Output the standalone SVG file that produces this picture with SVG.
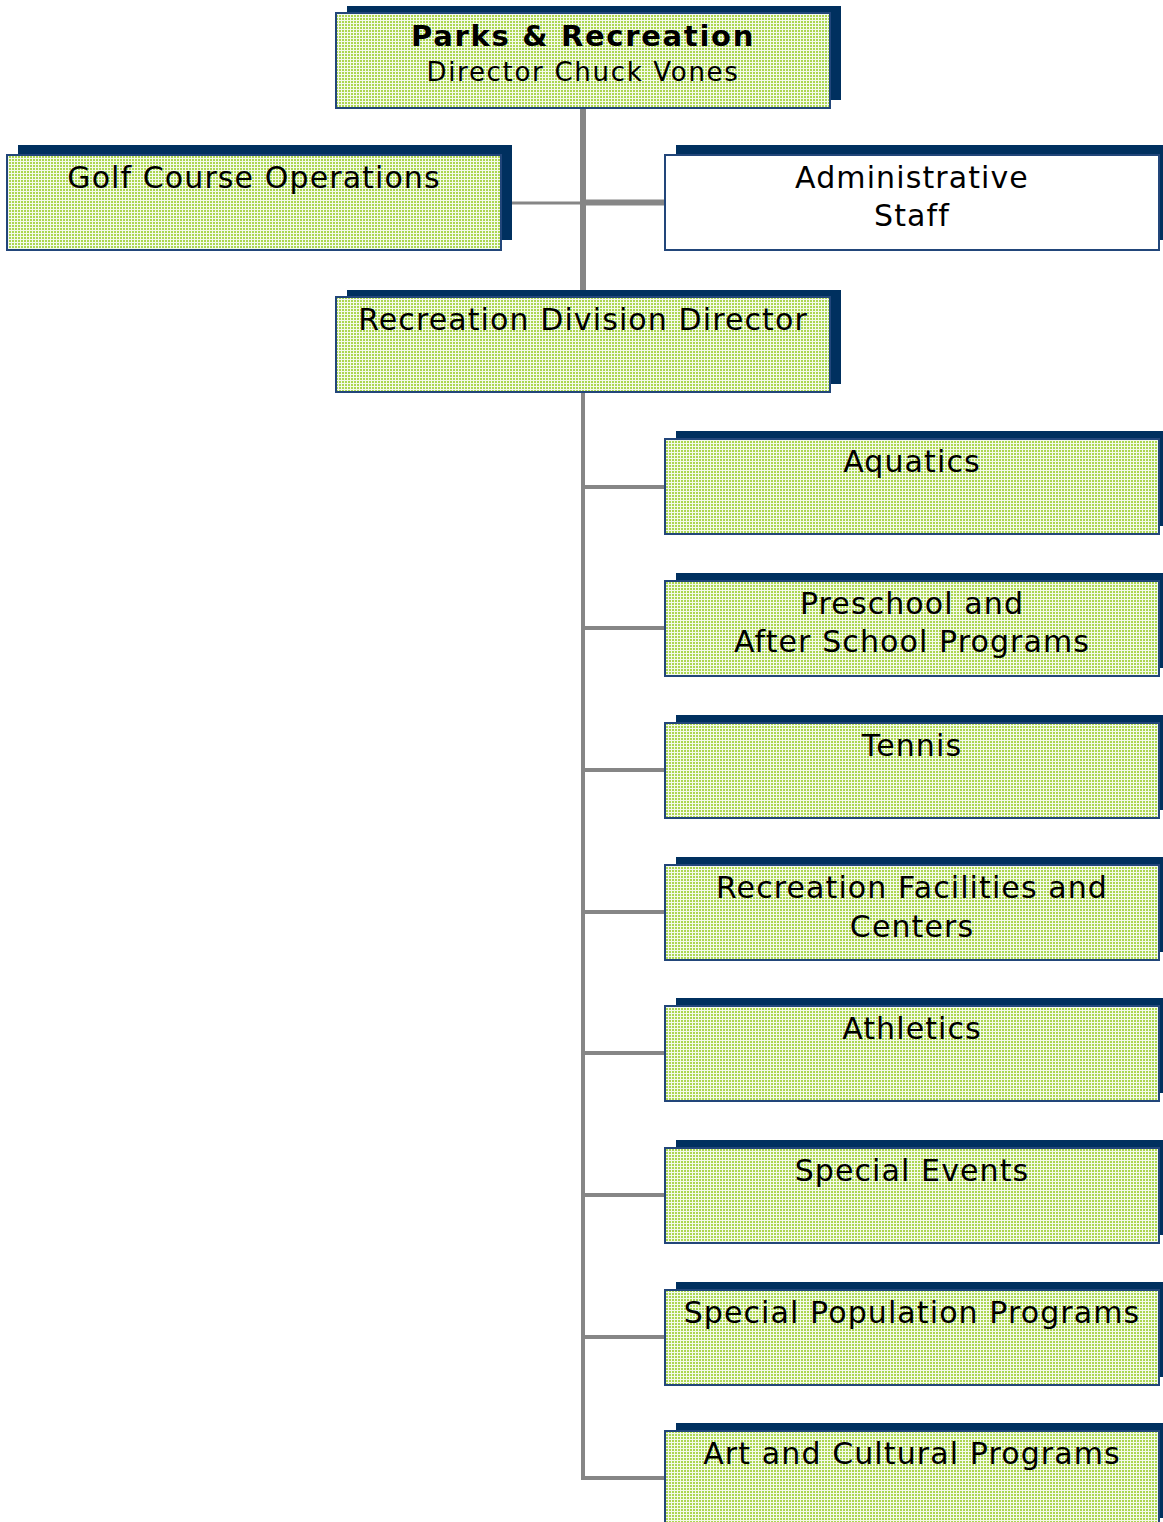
<svg xmlns="http://www.w3.org/2000/svg" width="1163" height="1522" viewBox="0 0 1163 1522">
<defs>
<pattern id="dots" x="0" y="0" width="3" height="3" patternUnits="userSpaceOnUse">
<rect width="3" height="3" fill="#f4faea"/>
<rect x="0" y="0" width="2" height="2" fill="#acd650"/>
</pattern>
</defs>
<style>
.sh{fill:#00305f}
.bx{fill:url(#dots);stroke:#22467a;stroke-width:2}
.wb{fill:#ffffff;stroke:#22467a;stroke-width:2}
.t{font-family:"DejaVu Sans",Verdana,sans-serif;font-size:30px;letter-spacing:1.1px;text-anchor:middle;fill:#000}
.tb{font-family:"DejaVu Sans",Verdana,sans-serif;font-size:29px;font-weight:bold;letter-spacing:1.7px;text-anchor:middle;fill:#000}
.ts{font-family:"DejaVu Sans",Verdana,sans-serif;font-size:26px;letter-spacing:1.7px;text-anchor:middle;fill:#000}
.c{stroke:#868686;fill:none}
</style>
<rect width="1163" height="1522" fill="#ffffff"/>
<g id="connectors">
<line class="c" x1="583" y1="108" x2="583" y2="297" stroke-width="6"/>
<line class="c" x1="583" y1="202.5" x2="665" y2="202.5" stroke-width="6"/>
<line class="c" x1="501" y1="203" x2="583" y2="203" stroke-width="3"/>
<polyline class="c" points="583,392 583,1478 665,1478" stroke-width="4"/>
<line class="c" x1="583" y1="487" x2="665" y2="487" stroke-width="4"/>
<line class="c" x1="583" y1="628" x2="665" y2="628" stroke-width="4"/>
<line class="c" x1="583" y1="770" x2="665" y2="770" stroke-width="4"/>
<line class="c" x1="583" y1="912" x2="665" y2="912" stroke-width="4"/>
<line class="c" x1="583" y1="1053" x2="665" y2="1053" stroke-width="4"/>
<line class="c" x1="583" y1="1195" x2="665" y2="1195" stroke-width="4"/>
<line class="c" x1="583" y1="1337" x2="665" y2="1337" stroke-width="4"/>
</g>
<g id="parks">
<rect class="sh" x="347" y="6" width="494" height="94"/>
<rect class="bx" x="336" y="13" width="494" height="95"/>
<text class="tb" x="583" y="46">Parks &amp; Recreation</text>
<text class="ts" x="583" y="81">Director Chuck Vones</text>
</g>
<g id="golf">
<rect class="sh" x="18" y="145" width="494" height="95"/>
<rect class="bx" x="7" y="155" width="494" height="95"/>
<text class="t" x="254" y="188">Golf Course Operations</text>
</g>
<g id="admin">
<rect class="sh" x="676" y="145" width="494" height="95"/>
<rect class="wb" x="665" y="155" width="494" height="95"/>
<text class="t" x="912" y="188">Administrative</text>
<text class="t" x="912" y="226">Staff</text>
</g>
<g id="recdir">
<rect class="sh" x="347" y="290" width="494" height="94"/>
<rect class="bx" x="336" y="297" width="494" height="95"/>
<text class="t" x="583" y="330">Recreation Division Director</text>
</g>
<g id="aquatics">
<rect class="sh" x="676" y="431" width="494" height="95"/>
<rect class="bx" x="665" y="439" width="494" height="95"/>
<text class="t" x="912" y="472">Aquatics</text>
</g>
<g id="preschool">
<rect class="sh" x="676" y="573" width="494" height="95"/>
<rect class="bx" x="665" y="581" width="494" height="95"/>
<text class="t" x="912" y="614">Preschool and</text>
<text class="t" x="912" y="652">After School Programs</text>
</g>
<g id="tennis">
<rect class="sh" x="676" y="715" width="494" height="95"/>
<rect class="bx" x="665" y="723" width="494" height="95"/>
<text class="t" x="912" y="756">Tennis</text>
</g>
<g id="facilities">
<rect class="sh" x="676" y="857" width="494" height="95"/>
<rect class="bx" x="665" y="865" width="494" height="95"/>
<text class="t" x="912" y="898">Recreation Facilities and</text>
<text class="t" x="912" y="937">Centers</text>
</g>
<g id="athletics">
<rect class="sh" x="676" y="998" width="494" height="95"/>
<rect class="bx" x="665" y="1006" width="494" height="95"/>
<text class="t" x="912" y="1039">Athletics</text>
</g>
<g id="events">
<rect class="sh" x="676" y="1140" width="494" height="95"/>
<rect class="bx" x="665" y="1148" width="494" height="95"/>
<text class="t" x="912" y="1181">Special Events</text>
</g>
<g id="specialpop">
<rect class="sh" x="676" y="1282" width="494" height="95"/>
<rect class="bx" x="665" y="1290" width="494" height="95"/>
<text class="t" x="912" y="1323">Special Population Programs</text>
</g>
<g id="art">
<rect class="sh" x="676" y="1423" width="494" height="95"/>
<rect class="bx" x="665" y="1431" width="494" height="95"/>
<text class="t" x="912" y="1464">Art and Cultural Programs</text>
</g>
</svg>
